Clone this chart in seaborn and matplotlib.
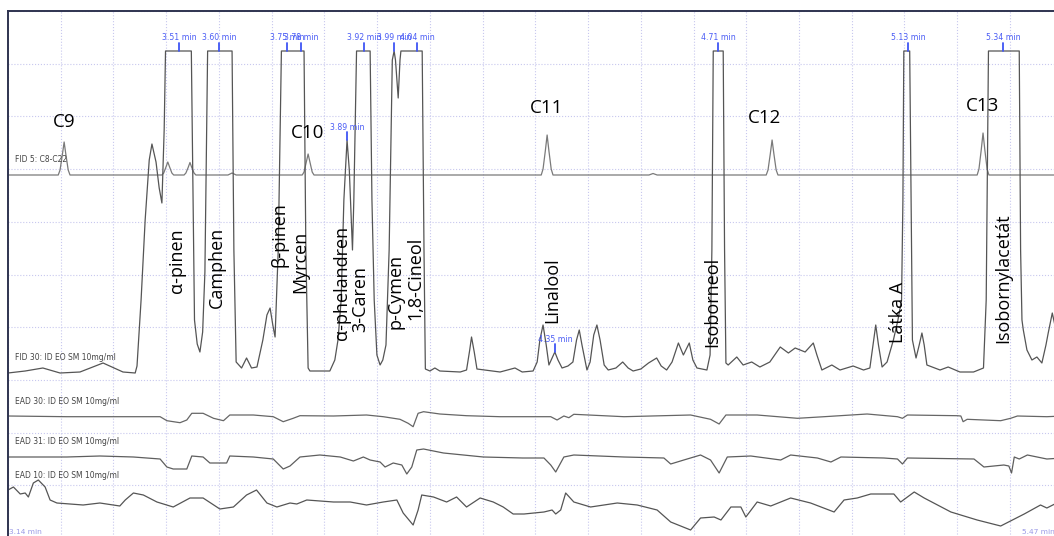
import numpy as np
import pandas as pd
import matplotlib.pyplot as plt
import seaborn as sns

# -=-=-=-=-=- TRACE DATA (retention time in min, signal above own baseline) -=-=-=-=-=-

fid5_time = [3.140, 3.251, 3.255, 3.260, 3.264, 3.268, 3.273, 3.277, 3.480, 3.484,
             3.489, 3.493, 3.497, 3.502, 3.506, 3.529, 3.533, 3.538, 3.542, 3.546,
             3.551, 3.555, 3.626, 3.635, 3.644, 3.790, 3.794, 3.799, 3.803, 3.807,
             3.812, 3.816, 4.318, 4.322, 4.327, 4.331, 4.335, 4.340, 4.344, 4.556,
             4.565, 4.574, 4.815, 4.819, 4.824, 4.828, 4.832, 4.837, 4.841, 5.281,
             5.285, 5.290, 5.294, 5.298, 5.303, 5.307, 5.470]
fid5_signal = [0, 0, 5, 20, 33, 20, 5, 0, 0, 2,
               8, 13, 8, 2, 0, 0, 2, 7.5, 12.5, 7.5,
               2, 0, 0, 2, 0, 0, 3, 13, 21, 13,
               3, 0, 0, 6, 24, 40, 24, 6, 0, 0,
               1.5, 0, 0, 5, 21, 35, 21, 5, 0, 0,
               6, 25, 42, 25, 6, 0, 0]

fid30_time = [3.140, 3.178, 3.217, 3.255, 3.299, 3.350, 3.394, 3.421, 3.425, 3.434,
              3.443, 3.452, 3.458, 3.467, 3.474, 3.480, 3.485, 3.488, 3.545, 3.549,
              3.552, 3.558, 3.564, 3.570, 3.575, 3.581, 3.635, 3.639, 3.644, 3.656,
              3.667, 3.678, 3.690, 3.703, 3.712, 3.719, 3.725, 3.730, 3.737, 3.744,
              3.794, 3.798, 3.803, 3.807, 3.851, 3.862, 3.869, 3.876, 3.882, 3.889,
              3.894, 3.901, 3.904, 3.910, 3.940, 3.944, 3.949, 3.955, 3.962, 3.968,
              3.975, 3.982, 3.989, 3.993, 3.996, 4.002, 4.006, 4.008, 4.055, 4.059,
              4.062, 4.072, 4.083, 4.094, 4.139, 4.153, 4.160, 4.164, 4.170, 4.176,
              4.227, 4.260, 4.276, 4.300, 4.309, 4.315, 4.322, 4.329, 4.335, 4.342,
              4.348, 4.355, 4.364, 4.377, 4.388, 4.396, 4.402, 4.408, 4.419, 4.426,
              4.434, 4.441, 4.448, 4.457, 4.466, 4.483, 4.498, 4.510, 4.521, 4.538,
              4.555, 4.573, 4.583, 4.595, 4.607, 4.621, 4.632, 4.645, 4.653, 4.662,
              4.684, 4.691, 4.695, 4.698, 4.720, 4.723, 4.726, 4.731, 4.750, 4.764,
              4.783, 4.801, 4.823, 4.846, 4.864, 4.879, 4.901, 4.919, 4.927, 4.938,
              4.960, 4.978, 5.007, 5.030, 5.044, 5.051, 5.057, 5.063, 5.071, 5.082,
              5.096, 5.106, 5.114, 5.117, 5.119, 5.132, 5.135, 5.138, 5.146, 5.153,
              5.159, 5.164, 5.170, 5.199, 5.217, 5.243, 5.273, 5.295, 5.301, 5.304,
              5.306, 5.374, 5.377, 5.380, 5.383, 5.391, 5.402, 5.413, 5.424, 5.433,
              5.438, 5.447, 5.455, 5.470]
fid30_signal = [-1, 1, 4, -1, 0, 9, 0, -1, 6, 72,
                152, 212, 228, 210, 184, 169, 242, 321, 321, 172,
                52, 28, 20, 40, 100, 321, 321, 122, 10, 4,
                14, 4, 5, 32, 57, 64, 47, 35, 122, 321,
                321, 122, 4, 1, 1, 12, 32, 72, 172, 232,
                202, 122, 172, 321, 321, 172, 72, 17, 7, 12,
                27, 122, 312, 321, 312, 274, 312, 321, 321, 122,
                3, 1, 4, 1, 0, 2, 22, 35, 20, 3,
                0, 4, 0, 1, 10, 32, 47, 27, 7, 14,
                20, 12, 4, 6, 10, 32, 42, 27, 2, 10,
                37, 47, 32, 7, 2, 4, 10, 4, 1, 3,
                9, 14, 6, 2, 10, 29, 17, 29, 12, 4,
                2, 17, 122, 321, 321, 122, 9, 7, 15, 7,
                10, 5, 10, 25, 19, 24, 20, 29, 17, 2,
                7, 2, 6, 2, 4, 27, 47, 27, 5, 10,
                32, 52, 72, 172, 321, 321, 172, 32, 14, 27,
                39, 27, 7, 2, 5, 0, 0, 4, 72, 222,
                321, 321, 122, 52, 42, 22, 12, 15, 9, 27,
                39, 59, 42, 12]

ead30_time = [3.140, 3.270, 3.416, 3.476, 3.491, 3.520, 3.535, 3.546, 3.571, 3.594,
              3.616, 3.630, 3.682, 3.726, 3.748, 3.770, 3.785, 3.859, 3.932, 3.969,
              4.006, 4.024, 4.035, 4.046, 4.058, 4.094, 4.153, 4.227, 4.339, 4.353,
              4.368, 4.379, 4.390, 4.501, 4.648, 4.692, 4.711, 4.726, 4.795, 4.884,
              4.943, 5.038, 5.105, 5.116, 5.127, 5.237, 5.245, 5.250, 5.259, 5.333,
              5.355, 5.370, 5.435, 5.470]
ead30_signal = [0, -0.7, -0.7, -0.7, -4.7, -6.7, -4, 2.7, 2.7, -2.3,
                -4.7, 1, 1, -0.7, -5.7, -2.3, 0.3, 0, 1, -0.7,
                -3.3, -7.3, -10.7, 2.7, 4.3, 2, 0.3, -0.7, -0.7, -4,
                0, -1.7, 1.7, -0.7, 1, -3.3, -8, 1, 1, -2.3,
                -0.7, 2, -0.7, -2.3, 1, 0.3, 0, -5.7, -3.3, -4.7,
                -2.3, 0, -0.7, 0]

ead31_time = [3.140, 3.270, 3.343, 3.417, 3.476, 3.491, 3.505, 3.535, 3.546, 3.571,
              3.586, 3.601, 3.623, 3.630, 3.682, 3.726, 3.748, 3.763, 3.785, 3.829,
              3.874, 3.903, 3.925, 3.940, 3.962, 3.973, 3.991, 4.010, 4.021, 4.032,
              4.043, 4.058, 4.102, 4.190, 4.277, 4.324, 4.339, 4.350, 4.368, 4.390,
              4.501, 4.589, 4.604, 4.633, 4.670, 4.692, 4.711, 4.729, 4.781, 4.847,
              4.869, 4.928, 4.958, 4.980, 5.075, 5.105, 5.116, 5.127, 5.274, 5.296,
              5.340, 5.351, 5.357, 5.363, 5.374, 5.392, 5.435, 5.470]
ead31_signal = [0, 0, 1, 0, -2, -10, -12, -12, 1, 0,
                -6, -6, -6, 1, 0, -2, -12, -9, 0, 2,
                0, -4, 0, -3, -5, -10, -6, -8, -17, -10,
                7, 8, 4, 0, -1, -1, -8, -15, 0, 2,
                0, -1, -7, -3, 2, -3, -16, 0, 1, -3,
                2, -1, -5, 0, -1, -2, -7, -1, -2, -10,
                -8, -9, -16, 0, -2, 2, -2, -1]

ead10_time = [3.140, 3.152, 3.167, 3.178, 3.185, 3.196, 3.207, 3.222, 3.233, 3.248,
              3.306, 3.343, 3.387, 3.399, 3.417, 3.439, 3.469, 3.505, 3.542, 3.571,
              3.608, 3.638, 3.667, 3.689, 3.712, 3.734, 3.763, 3.778, 3.800, 3.859,
              3.896, 3.932, 3.969, 3.999, 4.013, 4.035, 4.046, 4.054, 4.080, 4.109,
              4.131, 4.153, 4.183, 4.212, 4.234, 4.256, 4.280, 4.324, 4.342, 4.350,
              4.361, 4.372, 4.390, 4.427, 4.486, 4.530, 4.574, 4.604, 4.648, 4.670,
              4.700, 4.715, 4.737, 4.759, 4.770, 4.795, 4.825, 4.869, 4.913, 4.965,
              4.987, 5.016, 5.046, 5.097, 5.112, 5.142, 5.164, 5.223, 5.281, 5.333,
              5.385, 5.421, 5.435, 5.470]
ead10_signal = [12, 15, 8, 9, 5, 19, 22, 15, 2, -1,
                -3, -1, -4, 2, 9, 7, 0, -5, 4, 4,
                -7, -5, 7, 12, -1, -5, -1, -2, 2, 0,
                0, -3, 0, 2, -11, -23, -8, 7, 5, 0,
                5, -5, 4, 0, -5, -12, -12, -10, -8, -12,
                -8, 9, 0, -5, -1, -3, -8, -20, -28, -16,
                -15, -18, -5, -5, -15, 0, -4, 4, -1, -10,
                2, 4, 8, 8, 0, 10, 4, -10, -18, -24,
                -12, -3, -6, 2]

trace_names = ["FID 5: C8-C22", "FID 30: ID EO SM 10mg/ml", "EAD 30: ID EO SM 10mg/ml",
               "EAD 31: ID EO SM 10mg/ml", "EAD 10: ID EO SM 10mg/ml"]

# peak retention-time markers on the FID 30 trace
peak_texts = ["3.51 min", "3.60 min", "3.75 min", "3.78 min", "3.89 min", "3.92 min",
              "3.99 min", "4.04 min", "4.35 min", "4.71 min", "5.13 min", "5.34 min"]
peak_times = [3.518, 3.606, 3.756, 3.787, 3.889, 3.927, 3.993, 4.044, 4.348, 4.709, 5.128, 5.338]

# compound names (vertical) and alkane standards
compounds = ["α-pinen", "Camphen", "β-pinen", "Myrcen", "α-phelandren", "3-Caren",
             "p-Cymen", "1,8-Cineol", "Linalool", "Isoborneol", "Látka A", "Isobornylacetát"]
compound_times = [3.513, 3.602, 3.739, 3.785, 3.878, 3.918, 3.995, 4.039, 4.342, 4.695, 5.106, 5.338]
alkanes = ["C9", "C10", "C11", "C12", "C13"]
alkane_times = [3.264, 3.801, 4.329, 4.812, 5.292]

# -=-=-=-=-=- LAYOUT -=-=-=-=-=-

offsets = [363, 166, 122, 81, 36]
colors = ["#7a7a7a", "#555555", "#666666", "#5e5e5e", "#555555"]
compound_bottoms = [245, 230, 271, 245, 198, 206, 209, 218, 215, 191, 195, 195]
alkane_heights = [416, 405, 430, 420, 432]
label_heights = [378, 180, 137, 96, 62]

sns.set_theme(style="white")
plt.rcParams['font.family'] = ['DejaVu Sans']

times = [fid5_time, fid30_time, ead30_time, ead31_time, ead10_time]
signals = [fid5_signal, fid30_signal, ead30_signal, ead31_signal, ead10_signal]
frames = []
for name, t, s, off in zip(trace_names, times, signals, offsets):
    frames.append(pd.DataFrame({"time": t, "signal": np.array(s, dtype=float) + off, "trace": name}))
df = pd.concat(frames, ignore_index=True)

fig = plt.figure(figsize=(10.54, 5.36), dpi=100)
ax = fig.add_axes([8 / 1054, -2 / 536, 1054.7 / 1054, 527 / 536])

sns.lineplot(data=df, x="time", y="signal", hue="trace", hue_order=trace_names,
             palette=dict(zip(trace_names, colors)), estimator=None, sort=False,
             legend=False, linewidth=0.9, ax=ax)

ax.set_xlim(3.14, 5.47)
ax.set_ylim(0, 527)
ax.set_xticks(np.linspace(3.14, 5.47, 21))
ax.set_yticks(np.linspace(0, 527, 11))
ax.set_xticklabels([])
ax.set_yticklabels([])
ax.tick_params(length=0)
ax.set_xlabel("")
ax.set_ylabel("")
ax.grid(True, color="#c8c8ee", linestyle=":", linewidth=0.8)
for sp in ax.spines.values():
    sp.set_color("#2e3350")
    sp.set_linewidth(1.4)

# trace names
for name, yy in zip(trace_names, label_heights):
    ax.text(3.155, yy, name, fontsize=5.5, color="#444444", ha="left", va="center")

# blue peak markers (labels overlap where peaks are close, as in the software output)
for txt, t in zip(peak_texts, peak_times):
    base = np.interp(t, fid30_time, fid30_signal) + offsets[1]
    ax.plot([t, t], [base, base + 8], color="#3f55f5", lw=1.3)
    ax.text(t, base + 8.5, txt, fontsize=5.6, color="#4a5cf5", ha="center", va="bottom")

for name, t, yb in zip(compounds, compound_times, compound_bottoms):
    ax.text(t, yb, name, rotation=90, fontsize=13, family="Open Sans", color="black",
            ha="center", va="bottom", zorder=5)

for name, t, yy in zip(alkanes, alkane_times, alkane_heights):
    ax.text(t, yy, name, fontsize=13.5, family="Open Sans", color="black",
            ha="center", va="center", zorder=5)

ax.text(3.142, 6, "3.14 min", fontsize=5.4, color="#9a9ae6", ha="left", va="center")
ax.text(5.380, 6, "5.47 min", fontsize=5.4, color="#9a9ae6", ha="left", va="center")

fig.savefig("out.png", dpi=100)
